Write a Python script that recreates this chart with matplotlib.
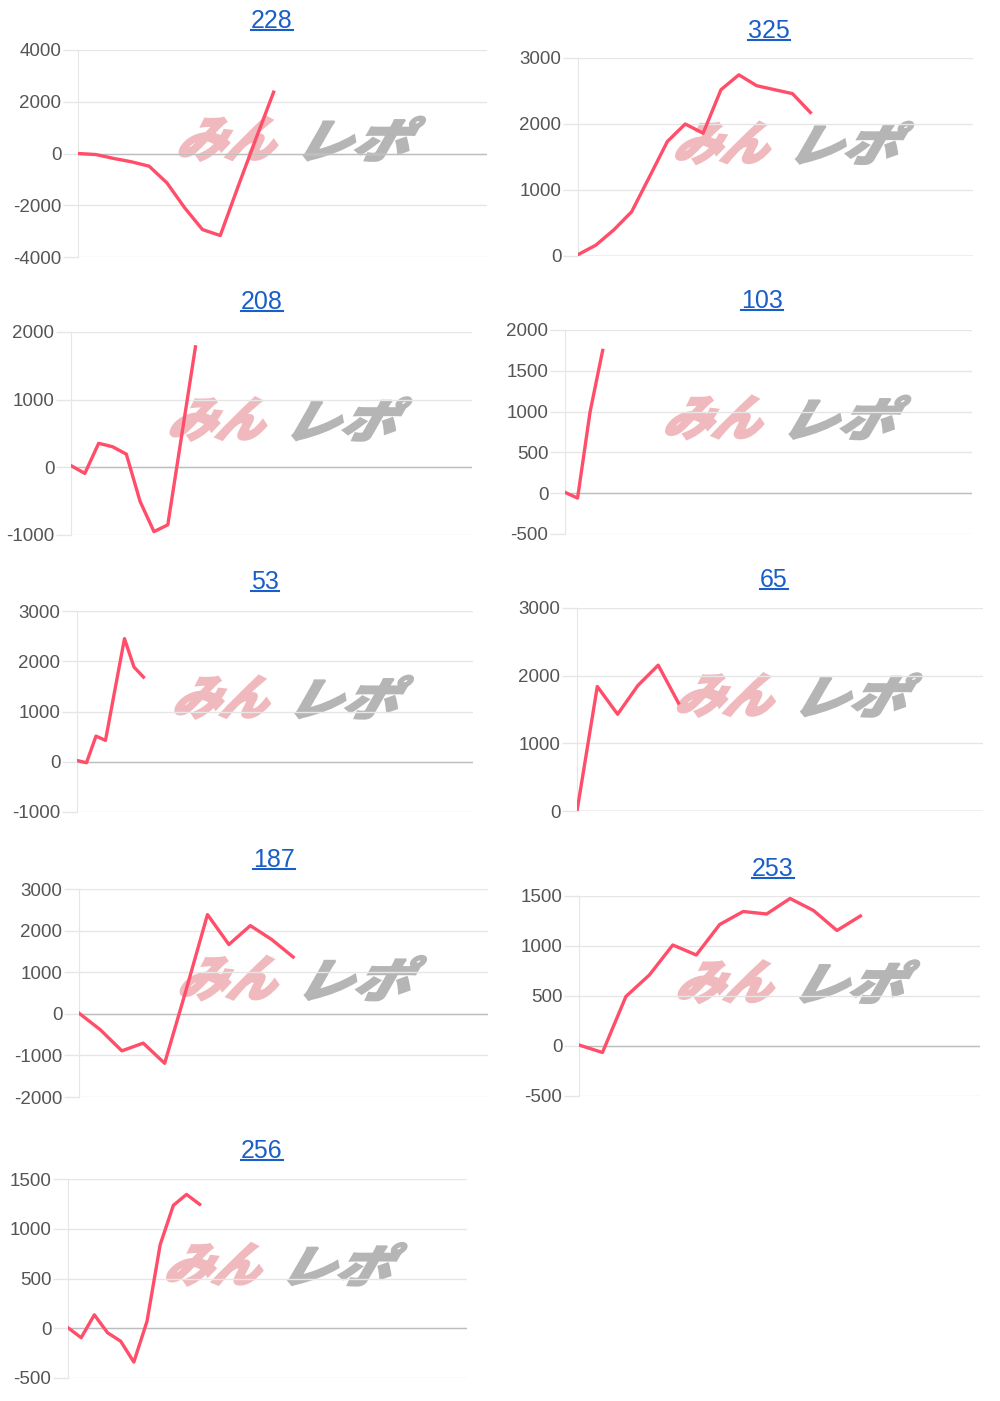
import matplotlib
matplotlib.use('Agg')
import matplotlib.pyplot as plt
from matplotlib.textpath import TextPath
from matplotlib.patches import PathPatch
from matplotlib.font_manager import FontProperties
from matplotlib.transforms import Affine2D
from matplotlib.lines import Line2D

# chart data
titles = ['228', '325', '208', '103', '53', '65', '187', '253', '256']
series = [
    [0, -40, -190, -320, -490, -1135, -2100, -2940, -3170, -1280, 560, 2370],
    [20, 165, 395, 670, 1200, 1735, 2000, 1860, 2520, 2745, 2580, 2520, 2460, 2175],
    [25, -90, 355, 305, 195, -505, -950, -850, 465, 1780],
    [10, -60, 1000, 1750],
    [25, -20, 510, 425, 1440, 2450, 1885, 1685],
    [0, 1840, 1430, 1855, 2155, 1595],
    [15, -385, -890, -705, -1190, 570, 2385, 1665, 2120, 1785, 1365],
    [10, -65, 495, 710, 1010, 910, 1215, 1345, 1320, 1475, 1355, 1155, 1300],
    [5, -95, 135, -45, -130, -340, 70, 840, 1235, 1345, 1245],
]
y_min = [-4000, 0, -1000, -500, -1000, 0, -2000, -500, -500]
y_max = [4000, 3000, 2000, 2000, 3000, 3000, 3000, 1500, 1500]
y_step = [2000, 1000, 1000, 500, 1000, 1000, 1000, 500, 500]
x_slots = [23, 22.1, 29, 32.4, 41.7, 20, 19.1, 17.1, 30.3]

# layout in pixels: axes box (left, top, right, bottom) and title centre
W, H = 1000, 1401
boxes = [
    (78, 50, 487, 257), (578, 58, 973, 256),
    (71, 332, 472, 535), (565, 330, 972, 534),
    (77, 611, 473, 812), (577, 608, 983, 811),
    (79, 889, 488, 1097), (579, 896, 980, 1096),
    (68, 1179, 467, 1378),
]
title_pos = [(272, 21), (769, 31), (262, 302), (762, 301), (265, 582),
             (774, 580), (274, 860), (773, 869), (262, 1151)]

LINE = '#ff4d6a'
GRID = '#e6e6e6'
ZERO = '#bdbdbd'
LINK = '#1a5fc8'

plt.rcParams['font.family'] = ['Liberation Sans', 'DejaVu Sans']
plt.rcParams['axes.unicode_minus'] = False
fig = plt.figure(figsize=(W / 100, H / 100), dpi=100)

wm_font = FontProperties(family='Noto Sans CJK JP', weight='black')


def stamp(ax, s, x0, x1, y0, y1, color):
    tp = TextPath((0, 0), s, size=1, prop=wm_font)
    bb = tp.get_extents()
    tr = (Affine2D().translate(-bb.x0, -bb.y0)
          .scale(1 / bb.width, 1 / bb.height)
          .skew_deg(14, 0)
          .scale((x1 - x0) / 1.25, y1 - y0)
          .translate(x0, y0))
    ax.add_patch(PathPatch(tp, transform=tr + ax.transAxes, facecolor=color,
                           edgecolor=color, lw=1.6, zorder=0.5))


title_texts = []
for i, vals in enumerate(series):
    l, t, r, b = boxes[i]
    ax = fig.add_axes([l / W, 1 - b / H, (r - l) / W, (b - t) / H])
    ax.plot(range(len(vals)), vals, color=LINE, lw=2.4, zorder=3)
    ax.set_xlim(0, x_slots[i])
    ax.set_ylim(y_min[i], y_max[i])
    ax.set_yticks(range(y_min[i], y_max[i] + 1, y_step[i]))
    ax.set_xticks([])
    ax.yaxis.grid(True, color=GRID, lw=1)
    ax.set_axisbelow(True)
    ax.axhline(0, color=ZERO, lw=1, zorder=1)
    for side in ['top', 'right', 'bottom']:
        ax.spines[side].set_visible(False)
    ax.spines['left'].set_color(GRID)
    ax.tick_params(axis='y', length=11, width=1, color=GRID, pad=1,
                   labelsize=13.5, labelcolor='#555555')

    # watermark logo
    stamp(ax, 'みん', 0.235, 0.525, 0.465, 0.678, '#f0b9bd')
    stamp(ax, 'レポ', 0.545, 0.855, 0.465, 0.678, '#b5b5b5')

    tx, ty = title_pos[i]
    title_texts.append(fig.text(tx / W, 1 - ty / H, titles[i], color=LINK,
                                fontsize=18, ha='center', va='center'))

# underline the title links
fig.canvas.draw()
rend = fig.canvas.get_renderer()
for t in title_texts:
    bb = t.get_window_extent(rend)
    yy = (bb.y0 + 3) / H
    fig.add_artist(Line2D([bb.x0 / W, bb.x1 / W], [yy, yy], color=LINK,
                          lw=1.5, transform=fig.transFigure))

fig.savefig('out.png', dpi=100, facecolor='white')
